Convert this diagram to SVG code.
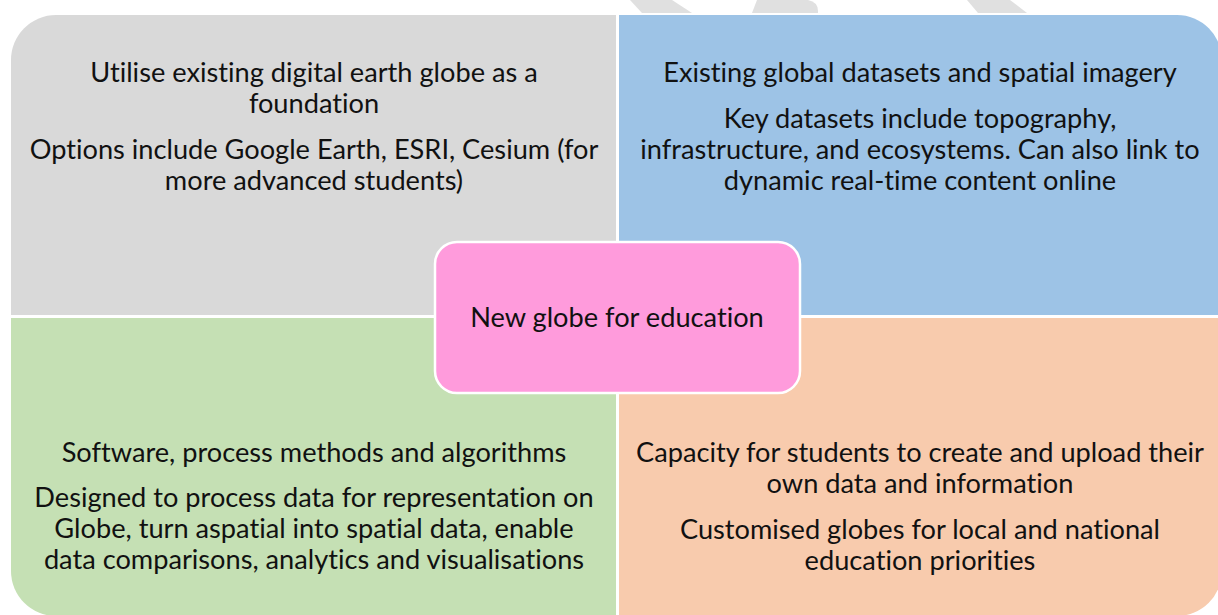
<svg xmlns="http://www.w3.org/2000/svg" width="1218" height="615" viewBox="0 0 1218 615">
  <style>
    .lbl { font-family: "Lato", "Liberation Sans", sans-serif; font-size: 27.2px; fill: #111111; text-anchor: middle; font-variant-ligatures: none; font-feature-settings: "liga" 0, "clig" 0, "dlig" 0; }
    .mark { fill: #e0e0e0; }
  </style>
  <rect x="0" y="0" width="1218" height="615" fill="#ffffff"/>

  <!-- faint background marks along the top edge -->
  <g id="backdrop">
    <polygon class="mark" points="630,0 672,0 692,13 642,13"/>
    <path class="mark" d="M757,0 L808,0 Q818,2 818,11 L818,13 L752,13 Z"/>
    <polygon class="mark" points="967,0 1010,0 1027,13 978,13"/>
  </g>

  <!-- top-left quadrant -->
  <g id="foundation">
    <path d="M11,60 A45,45 0 0 1 56,15 L616,15 L616,315 L11,315 Z" fill="#d9d9d9"/>
    <text class="lbl" x="314" y="82">Utilise existing digital earth globe as a</text>
    <text class="lbl" x="314" y="113">foundation</text>
    <text class="lbl" x="314" y="159">Options include Google Earth, ESRI, Cesium (for</text>
    <text class="lbl" x="314" y="190">more advanced students)</text>
  </g>

  <!-- top-right quadrant -->
  <g id="datasets">
    <path d="M619,15 L1177,15 A45,45 0 0 1 1222,60 L1222,315 L619,315 Z" fill="#9dc3e6"/>
    <text class="lbl" x="920" y="82">Existing global datasets and spatial imagery</text>
    <text class="lbl" x="920" y="128">Key datasets include topography,</text>
    <text class="lbl" x="920" y="159">infrastructure, and ecosystems. Can also link to</text>
    <text class="lbl" x="920" y="190">dynamic real-time content online</text>
  </g>

  <!-- bottom-left quadrant -->
  <g id="software">
    <path d="M11,318 L616,318 L616,616 L56,616 A45,45 0 0 1 11,571 Z" fill="#c5e0b4"/>
    <text class="lbl" x="314" y="462">Software, process methods and algorithms</text>
    <text class="lbl" x="314" y="507">Designed to process data for representation on</text>
    <text class="lbl" x="314" y="538">Globe, turn aspatial into spatial data, enable</text>
    <text class="lbl" x="314" y="569">data comparisons, analytics and visualisations</text>
  </g>

  <!-- bottom-right quadrant -->
  <g id="student-data">
    <path d="M619,318 L1222,318 L1222,571 A45,45 0 0 1 1177,616 L619,616 Z" fill="#f8cbad"/>
    <text class="lbl" x="920" y="462">Capacity for students to create and upload their</text>
    <text class="lbl" x="920" y="493">own data and information</text>
    <text class="lbl" x="920" y="539">Customised globes for local and national</text>
    <text class="lbl" x="920" y="570">education priorities</text>
  </g>

  <!-- centre -->
  <g id="new-globe">
    <rect x="435" y="242" width="365" height="151" rx="22" ry="22" fill="#ff9bdc" stroke="#ffffff" stroke-width="2.5"/>
    <text class="lbl" x="617" y="327">New globe for education</text>
  </g>
</svg>
